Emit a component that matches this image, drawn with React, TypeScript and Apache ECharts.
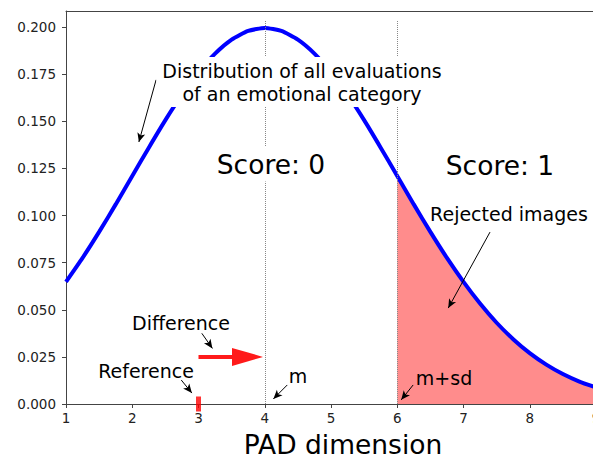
import React, { useEffect, useRef } from "react";
import * as echarts from "echarts";

// Distribution curve (PAD dimension vs density)
const curveX = [1, 1.25, 1.5, 1.75, 2, 2.25, 2.5, 2.75, 3, 3.25, 3.5, 3.75, 4, 4.25, 4.5, 4.75, 5, 5.25, 5.5, 5.75, 6, 6.25, 6.5, 6.75, 7, 7.25, 7.5, 7.75, 8, 8.25, 8.5, 8.75, 9];
const curveY = [0.0648, 0.0775, 0.0913, 0.1059, 0.121, 0.136, 0.1506, 0.1641, 0.176, 0.1859, 0.1933, 0.1979, 0.1995, 0.1979, 0.1933, 0.1859, 0.176, 0.1641, 0.1506, 0.136, 0.121, 0.1059, 0.0913, 0.0775, 0.0648, 0.0533, 0.0431, 0.0344, 0.027, 0.0209, 0.0159, 0.0119, 0.0088];

const yTicks = [0, 0.025, 0.05, 0.075, 0.1, 0.125, 0.15, 0.175, 0.2];
const xTicks = [1, 2, 3, 4, 5, 6, 7, 8, 9];

const meanX = 4; // m
const meanPlusSdX = 6; // m+sd
const referenceX = 3;
const differenceY = 0.025;

// annotation arrows in data coordinates: [fromX, fromY, toX, toY]
const blackArrows = [
  [2.36, 0.172, 2.1, 0.139],
  [7.4, 0.0912, 6.77, 0.0509],
  [3.05, 0.0375, 3.21, 0.0295],
  [2.74, 0.0127, 2.9, 0.0058],
  [4.34, 0.0101, 4.13, 0.0027],
  [6.24, 0.0101, 6.06, 0.0022],
];

export default function App() {
  const ref = useRef<HTMLDivElement>(null);
  useEffect(() => {
    if (!ref.current) return;
    const chart = echarts.init(ref.current, null, { renderer: "svg" });
    const curve = curveX.map((x, i) => [x, curveY[i]]);
    const fill = curve.filter((p) => p[0] >= meanPlusSdX);
    const font = "DejaVu Sans";
    const axisColor = "#444";
    const txt = (text: string, x: number, y: number, size: number, extra: any = {}) => ({
      type: "text",
      x,
      y,
      z: 100,
      style: {
        text,
        fontFamily: font,
        fontSize: size,
        fill: "#000",
        align: "center",
        verticalAlign: "middle",
        ...extra,
      },
    });
    chart.setOption({
      animation: false,
      grid: { left: 66, right: -3, top: 11, bottom: 55, outerBoundsMode: "none" },
      xAxis: [
        {
          type: "value",
          min: 1,
          max: 9,
          interval: 1,
          axisLine: { show: true, lineStyle: { color: axisColor, width: 1 } },
          axisTick: { show: true, length: 4, lineStyle: { color: axisColor } },
          axisLabel: {
            margin: 7,
            fontFamily: font,
            fontSize: 13.5,
            color: "#222",
            customValues: xTicks,
          },
          splitLine: { show: false },
        },
        {
          type: "value",
          position: "top",
          min: 1,
          max: 9,
          axisLine: { show: true, onZero: false, lineStyle: { color: axisColor, width: 1 } },
          axisTick: { show: false },
          axisLabel: { show: false },
          splitLine: { show: false },
        },
      ],
      yAxis: {
        type: "value",
        min: 0,
        max: 0.2085,
        interval: 0.025,
        axisLine: { show: true, lineStyle: { color: axisColor, width: 1 } },
        axisTick: { show: true, length: 4, lineStyle: { color: axisColor }, customValues: yTicks },
        axisLabel: {
          margin: 10,
          fontFamily: font,
          fontSize: 13.5,
          color: "#222",
          customValues: yTicks,
          formatter: (v: number) => v.toFixed(3),
        },
        splitLine: { show: false },
      },
      series: [
        {
          type: "line",
          data: fill,
          symbol: "none",
          lineStyle: { width: 0 },
          areaStyle: { color: "#ff8c8c", opacity: 1 },
          z: 1,
          silent: true,
        },
        {
          type: "line",
          data: curve,
          symbol: "none",
          smooth: 0.2,
          lineStyle: { color: "#0000ff", width: 4 },
          z: 3,
          silent: true,
          markLine: {
            silent: true,
            symbol: ["none", "none"],
            label: { show: false },
            lineStyle: { color: "#888", type: "dotted", width: 1 },
            data: [
              [{ coord: [meanX, 0] }, { coord: [meanX, 0.2037] }],
              [{ coord: [meanPlusSdX, 0] }, { coord: [meanPlusSdX, 0.2037] }],
            ],
          },
        },
        {
          type: "scatter",
          data: [[referenceX, 0]],
          symbol: "rect",
          symbolSize: [5, 15],
          itemStyle: { color: "#ff0000" },
          clip: false,
          z: 5,
          silent: true,
        },
        {
          type: "line",
          data: [],
          markLine: {
            silent: true,
            symbol: ["none", "arrow"],
            symbolSize: [6, 9],
            label: { show: false },
            lineStyle: { color: "#000", type: "solid", width: 1 },
            data: blackArrows.map((a) => [{ coord: [a[0], a[1]] }, { coord: [a[2], a[3]] }]),
          },
        },
        {
          type: "line",
          data: [],
          z: 6,
          markLine: {
            silent: true,
            symbol: ["none", "triangle"],
            symbolSize: [18, 31],
            label: { show: false },
            lineStyle: { color: "#ff1a1a", type: "solid", width: 4 },
            itemStyle: { color: "#ff1a1a" },
            data: [[{ coord: [referenceX, differenceY] }, { coord: [3.74, differenceY] }]],
          },
        },
      ],
      graphic: [
        txt("Distribution of all evaluations\nof an emotional category", 302, 82, 19, {
          lineHeight: 23,
          backgroundColor: "#fff",
          padding: [2, 6, 2, 6],
        }),
        txt("Score: 0", 271, 164, 26.5, { backgroundColor: "#fff", padding: [4, 4, 4, 4] }),
        txt("Score: 1", 500, 165, 26.5, { backgroundColor: "#fff", padding: [4, 4, 4, 4] }),
        txt("Rejected images", 509, 214, 19),
        txt("Difference", 181, 323, 19),
        txt("Reference", 146, 371, 19),
        txt("m", 298, 376, 19),
        txt("m+sd", 444, 378, 19),
        txt("PAD dimension", 343, 444, 26.5),
      ],
    });
    return () => chart.dispose();
  }, []);
  return (
    <div
      ref={ref}
      style={{ position: "absolute", left: 0, top: 0, width: 593, height: 459, background: "#fff" }}
    />
  );
}
